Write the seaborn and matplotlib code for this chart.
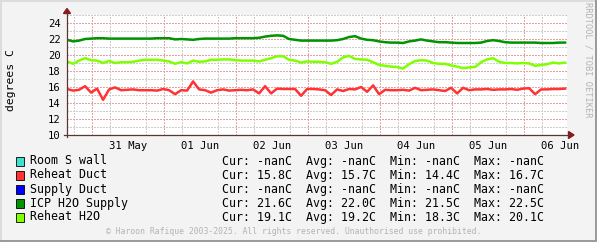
import numpy as np
import pandas as pd
import matplotlib
matplotlib.use("Agg")
import matplotlib.pyplot as plt
from matplotlib.lines import Line2D
from matplotlib.patches import Polygon, Rectangle
import seaborn as sns

# ---------------- data ----------------
# hours relative to 31 May 00:00, one sample every 2 h
hours = np.arange(84) * 2 - 8.4

reheat_duct = [15.75, 15.55, 15.65, 16.1, 15.3, 15.8, 14.4, 15.7, 15.95, 15.6, 15.65, 15.7, 15.6, 15.6, 15.6, 15.55, 15.75, 15.6, 15.1, 15.6,
               15.55, 16.7, 15.7, 15.6, 15.3, 15.6, 15.7, 15.55, 15.6, 15.65, 15.6, 15.7, 15.2, 16.1, 15.2, 15.8, 15.75, 15.75, 15.75, 14.9, 15.75,
               15.75, 15.7, 15.6, 15.0, 15.7, 15.5, 15.75, 15.7, 16.0, 15.4, 16.2, 15.1, 15.65, 15.6, 15.6, 15.65, 15.55, 15.9, 15.6, 15.65, 15.7,
               15.6, 15.5, 15.9, 15.2, 15.9, 15.6, 15.7, 15.7, 15.75, 15.65, 15.7, 15.7, 15.75, 15.65, 15.8, 15.85, 15.1, 15.7, 15.7, 15.75, 15.75,
               15.8]

icp_h2o_supply = [21.9, 21.7, 21.8, 22.0, 22.05, 22.1, 22.1, 22.05, 22.05, 22.05, 22.05, 22.05, 22.05, 22.05, 22.05, 22.1, 22.1, 22.1, 21.95, 22.0,
                  21.95, 21.9, 22.0, 22.05, 22.05, 22.05, 22.05, 22.05, 22.1, 22.1, 22.1, 22.1, 22.15, 22.3, 22.4, 22.45, 22.4, 22.0, 21.9, 21.8, 21.8,
                  21.8, 21.8, 21.8, 21.8, 21.85, 22.0, 22.25, 22.35, 22.05, 21.9, 21.85, 21.7, 21.6, 21.55, 21.55, 21.5, 21.7, 21.8, 21.95, 21.8, 21.7,
                  21.6, 21.6, 21.55, 21.5, 21.5, 21.5, 21.5, 21.55, 21.75, 21.85, 21.75, 21.6, 21.55, 21.55, 21.55, 21.55, 21.55, 21.5, 21.5, 21.5, 21.55,
                  21.55]

reheat_h2o = [19.2, 18.9, 19.3, 19.6, 19.35, 19.3, 19.0, 19.25, 19.0, 19.1, 19.1, 19.15, 19.3, 19.4, 19.4, 19.4, 19.3, 19.2, 18.9, 19.1,
              18.95, 19.3, 19.15, 19.2, 19.4, 19.4, 19.45, 19.45, 19.35, 19.3, 19.3, 19.3, 19.2, 19.4, 19.6, 19.85, 19.85, 19.4, 19.3, 19.05, 19.2,
              19.15, 19.15, 19.1, 18.9, 19.15, 19.7, 19.9, 19.5, 19.45, 19.4, 19.1, 18.75, 18.65, 18.55, 18.5, 18.3, 18.85, 19.25, 19.35, 19.3, 19.0,
              18.9, 18.9, 18.7, 18.55, 18.35, 18.45, 18.5, 19.1, 19.45, 19.6, 19.15, 19.0, 19.0, 18.95, 19.0, 18.95, 18.65, 18.75, 18.85, 19.05, 18.95,
              19.05]

legend_names = ["Room S wall", "Reheat Duct", "Supply Duct", "ICP H2O Supply", "Reheat H2O"]
legend_colors = ["#40E0D0", "#FF3333", "#0000FF", "#009400", "#80FF00"]
stats_text = ["Cur: -nanC  Avg: -nanC  Min: -nanC  Max: -nanC",
              "Cur: 15.8C  Avg: 15.7C  Min: 14.4C  Max: 16.7C",
              "Cur: -nanC  Avg: -nanC  Min: -nanC  Max: -nanC",
              "Cur: 21.6C  Avg: 22.0C  Min: 21.5C  Max: 22.5C",
              "Cur: 19.1C  Avg: 19.2C  Min: 18.3C  Max: 20.1C"]

day_labels = ["31 May", "01 Jun", "02 Jun", "03 Jun", "04 Jun", "05 Jun", "06 Jun"]
day_label_hours = [12, 36, 60, 84, 108, 132, 156]
y_ticks = [10, 12, 14, 16, 18, 20, 22, 24]

# ---------------- figure ----------------
W, H = 597, 242
BG = "#F3F3F3"
MONO = "DejaVu Sans Mono"
plt.rcParams["font.family"] = MONO

fig = plt.figure(figsize=(W / 100, H / 100), dpi=100, facecolor=BG)


def fx(x):
    return x / W


def fy(y):
    return 1 - y / H


ax = fig.add_axes([fx(67), fy(135), 500 / W, 120 / H])
ax.set_facecolor("white")

df = pd.concat([
    pd.DataFrame({"t": hours, "v": reheat_duct, "s": "Reheat Duct"}),
    pd.DataFrame({"t": hours, "v": icp_h2o_supply, "s": "ICP H2O Supply"}),
    pd.DataFrame({"t": hours, "v": reheat_h2o, "s": "Reheat H2O"}),
])
palette = dict(zip(legend_names, legend_colors))
sns.lineplot(data=df, x="t", y="v", hue="s", palette=palette, legend=False,
             ax=ax, linewidth=1.8, zorder=5, estimator=None, sort=False)

ax.set_xlim(-8.43, 158.23)
ax.set_ylim(10, 25)
ax.set_xlabel("")
ax.set_ylabel("")
for sp in ax.spines.values():
    sp.set_visible(False)

# ticks
ax.set_xticks(day_label_hours)
ax.set_xticklabels(day_labels)
ax.set_xticks(np.arange(-6, 158, 6), minor=True)
ax.set_yticks(y_ticks)
ax.set_yticks(np.arange(10, 25.5, 1), minor=True)
ax.tick_params(axis="both", which="both", length=0, labelsize=7.6, colors="black")
ax.tick_params(axis="x", pad=4.5)
ax.tick_params(axis="y", pad=4.5)

dot = (0, (1.4, 1.4))
gkw = dict(linestyle=dot, linewidth=0.72, antialiased=False)
ax.grid(False, which="major", axis="x")
ax.grid(True, which="minor", axis="x", color="#cdcdcd", zorder=1, **gkw)
ax.grid(True, which="minor", axis="y", color="#cdcdcd", zorder=1, **gkw)
ax.grid(True, which="major", axis="y", color="#e9a3a3", zorder=2, **gkw)
for d in range(0, 157, 24):
    ax.axvline(d, color="#e9a3a3", zorder=2, **gkw)
ax.set_axisbelow(True)

# axes lines and arrows (figure pixel coordinates)
AX_COL = "#5c3535"
AR_COL = "#8b1a1a"
fig.add_artist(Line2D([fx(67), fx(67)], [fy(137), fy(12)], color=AX_COL, linewidth=0.9))
fig.add_artist(Line2D([fx(64), fx(569)], [fy(135), fy(135)], color=AX_COL, linewidth=0.9))
fig.add_artist(Polygon([[fx(63.5), fy(13.5)], [fx(70.5), fy(13.5)], [fx(67), fy(8.5)]],
                       closed=True, color=AR_COL, transform=fig.transFigure))
fig.add_artist(Polygon([[fx(568.5), fy(131.5)], [fx(568.5), fy(138.5)], [fx(574), fy(135)]],
                       closed=True, color=AR_COL, transform=fig.transFigure))

# y label
fig.text(fx(11), fy(80), "degrees C", rotation=90, ha="center", va="center",
         fontsize=8.2, family=MONO, color="black")

# watermark
fig.text(fx(588), fy(60), "RRDTOOL / TOBI OETIKER", rotation=270, ha="center", va="center",
         fontsize=6.2, family=MONO, color="#b4b4b4")

# legend
row_y = [161, 175, 189, 203, 217]
for name, col, st, yy in zip(legend_names, legend_colors, stats_text, row_y):
    fig.add_artist(Rectangle((fx(15.5), fy(yy + 4.5)), 8.5 / W, 9 / H, facecolor=col,
                             edgecolor="black", linewidth=0.6, transform=fig.transFigure))
    fig.text(fx(30), fy(yy), name, ha="left", va="center", fontsize=8.4, family=MONO, color="black")
    fig.text(fx(222), fy(yy), st, ha="left", va="center", fontsize=8.4, family=MONO, color="black")

# footer
fig.text(fx(294), fy(231), "\u00a9 Haroon Rafique 2003-2025. All rights reserved. Unauthorised use prohibited.",
         ha="center", va="center", fontsize=5.9, family=MONO, color="#b4b4b4")

# border shading
fig.add_artist(Line2D([0, 1], [fy(0.5), fy(0.5)], color="#dcdcdc", linewidth=1.4))
fig.add_artist(Line2D([fx(0.5), fx(0.5)], [0, 1], color="#dcdcdc", linewidth=1.4))
fig.add_artist(Line2D([0, 1], [fy(241), fy(241)], color="#999999", linewidth=1.4))
fig.add_artist(Line2D([fx(596), fx(596)], [0, 1], color="#999999", linewidth=1.4))

fig.savefig("out.png", dpi=100, facecolor=BG)
